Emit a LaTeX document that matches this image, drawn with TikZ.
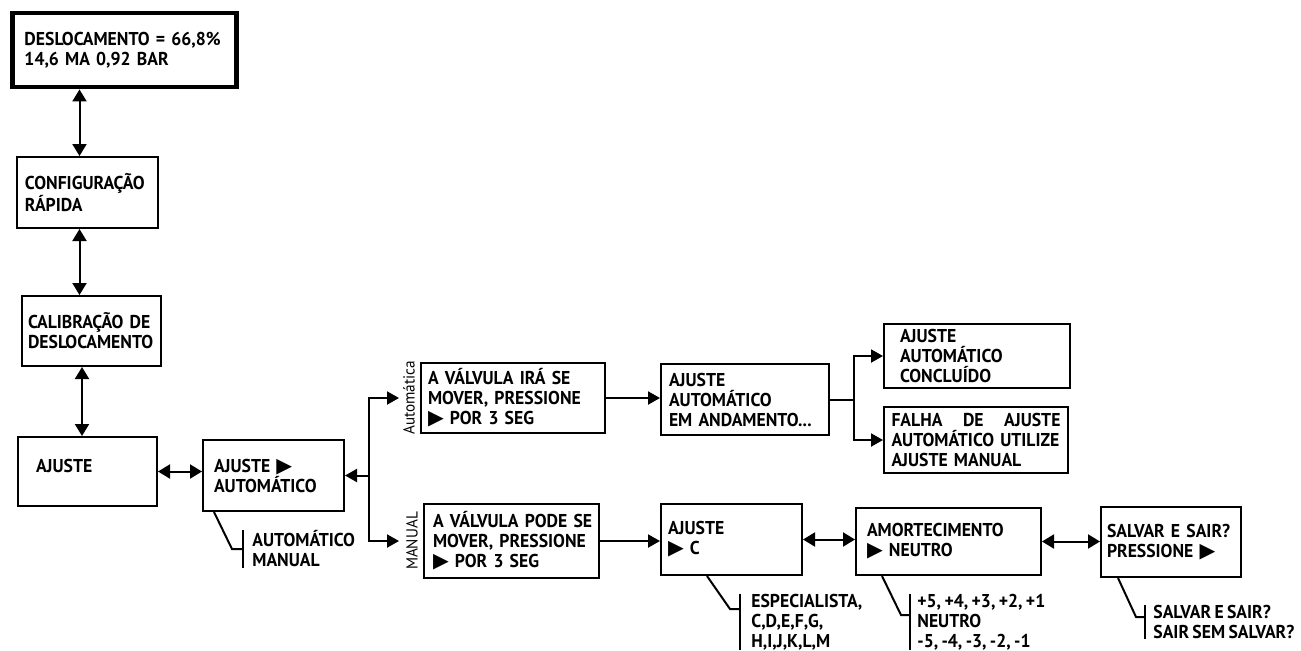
\documentclass[tikz,border=0pt]{standalone}
\usepackage{fontspec}
\setmainfont[FakeStretch=0.95, WordSpace=0.75]{PT Sans}
\newfontfamily\symfont[Scale=1.1]{DejaVu Sans}
\usetikzlibrary{arrows.meta}
\newcommand{\ptri}{{\symfont ▶}}
\hyphenpenalty=10000

\tikzset{
  tela/.style={draw, line width=1pt, align=left, inner ysep=0pt, font=\bfseries\fontsize{9.3}{10}\selectfont},
  opcao/.style={align=left, inner xsep=0pt, inner ysep=0pt, anchor=west, font=\bfseries\fontsize{9.3}{10}\selectfont},
  modo/.style={rotate=90, inner sep=0pt, font=\fontsize{8}{8}\selectfont},
  fio/.style={line width=1pt},
  seta/.style={-{Triangle[length=6pt,width=6.5pt]}, line width=1pt},
  dup/.style={{Triangle[length=6pt,width=7pt]}-{Triangle[length=6pt,width=7pt]}, line width=1pt}
}

\begin{document}
\begin{tikzpicture}[x=0.5pt, y=-0.5pt]
  \useasboundingbox (0,0) rectangle (1301,650);
  % telas
  \node[tela, line width=2.4pt, inner xsep=6pt, text width=100pt, minimum height=37pt] (disp) at (124.5,50) {DESLOCAMENTO~=~66,8\%\\14,6 MA 0,92 BAR};
  \node[tela, inner xsep=4pt, text width=62.5pt, minimum height=35.5pt] (config) at (87.5,192.5) {CONFIGURAÇÃO\\RÁPIDA};
  \node[tela, inner xsep=3pt, text width=63.5pt, minimum height=35pt] (calib) at (91.5,331) {CALIBRAÇÃO~DE\\DESLOCAMENTO};
  \node[tela, inner xsep=9pt, text width=51.5pt, minimum height=34.5pt] (ajuste) at (87.5,471.5) {AJUSTE\\[-4pt]\mbox{}};
  \node[tela, inner xsep=5.5pt, text width=59.5pt, minimum height=35.5pt] (ajauto) at (273.5,475.5) {AJUSTE \ptri\\AUTOMÁTICO};
  \node[tela, inner xsep=3.5pt, text width=85pt, minimum height=35pt] (irase) at (513,398) {A~VÁLVULA~IRÁ~SE\\MOVER,~PRESSIONE\\\ptri{} POR 3 SEG};
  \node[tela, inner xsep=4.5pt, text width=78.5pt, minimum height=37pt] (podese) at (511.5,541) {A~VÁLVULA~PODE~SE\\MOVER,~PRESSIONE\\\ptri{} POR 3 SEG};
  \node[tela, inner xsep=4pt, text width=76pt, minimum height=35.5pt] (andam) at (745,399.5) {AJUSTE\\AUTOMÁTICO\\EM~ANDAMENTO...};
  \node[tela, inner xsep=8pt, text width=77pt, minimum height=32pt] (concl) at (977,356) {AJUSTE\\AUTOMÁTICO\\CONCLUÍDO};
  \node[tela, inner xsep=3.75pt, text width=84.5pt, minimum height=33pt] (falha) at (976,440) {FALHA\hfill DE\hfill AJUSTE\\AUTOMÁTICO~UTILIZE\\AJUSTE MANUAL};
  \node[tela, inner xsep=3.5pt, text width=63.5pt, minimum height=35.5pt] (ajc) at (731.5,539.5) {AJUSTE\\\ptri{} C};
  \node[tela, inner xsep=5.5pt, text width=81.5pt, minimum height=33.5pt] (amort) at (948.5,541.5) {AMORTECIMENTO\\\ptri{} NEUTRO};
  \node[tela, inner xsep=3pt, text width=64pt, minimum height=35pt] (salvar) at (1171,542) {SALVAR~E~SAIR?\\PRESSIONE \ptri};

  % rotulos dos ramos
  \node[modo] (lauto) at ([xshift=-5.5pt]irase.west) {Automática};
  \node[modo] (lman) at ([xshift=-5.5pt]podese.west) {MANUAL};

  % opcoes
  \node[opcao] (optauto) at (252,549) {AUTOMÁTICO\\MANUAL};
  \node[opcao] (optesp) at (751,622) {ESPECIALISTA,\\C,D,E,F,G,\\H,I,J,K,L,M};
  \node[opcao] (optamo) at (917,622) {+5, +4, +3, +2, +1\\NEUTRO\\-5, -4, -3, -2, -1};
  \node[opcao] (optsal) at (1153,622) {SALVAR E SAIR?\\SAIR SEM SALVAR?};

  % menu principal
  \draw[dup] ([xshift=-4pt]config.north) -- ([xshift=-4pt]config.north |- disp.south);
  \draw[dup] ([xshift=-4pt]config.south) -- ([xshift=-4pt]config.south |- calib.north);
  \draw[dup] ([xshift=-2.75pt]ajuste.north) -- ([xshift=-2.75pt]ajuste.north |- calib.south);
  \draw[dup] (ajuste.east) -- (ajuste.east -| ajauto.west);

  % ramos automatico / manual
  \coordinate (ramo) at ([xshift=12pt]ajauto.east);
  \draw[seta] (ramo) -- (ajauto.east);
  \draw[seta] (ramo) |- ([xshift=-10.5pt]irase.west);
  \draw[seta] (ramo) |- ([xshift=-12pt]podese.west);
  \draw[seta] (irase.east) -- (irase.east -| andam.west);
  \draw[seta] (podese.east) -- (podese.east -| ajc.west);

  \coordinate (ramo2) at ([xshift=12pt]andam.east);
  \draw[fio] (andam.east) -- (ramo2);
  \draw[seta] (ramo2) |- (concl.west);
  \draw[seta] (ramo2) |- (falha.west);

  \draw[dup] (ajc.east) -- (ajc.east -| amort.west);
  \draw[dup] (amort.east) -- (amort.east -| salvar.west);

  % chaves das opcoes
  \draw[fio] ([xshift=-4.5pt]optauto.north west) -- ([xshift=-4.5pt]optauto.south west);
  \draw[fio] ([xshift=6pt]ajauto.south west) -- ([xshift=-10pt]optauto.west) -- ([xshift=-4.5pt]optauto.west);
  \draw[fio] ([xshift=-5.5pt]optesp.north west) -- ([xshift=-5.5pt]optesp.south west);
  \draw[fio] ([xshift=23.5pt]ajc.south west) -- ([xshift=-10.5pt,yshift=6.5pt]optesp.west) -- ([xshift=-5.5pt,yshift=6.5pt]optesp.west);
  \draw[fio] ([xshift=-3.5pt]optamo.north west) -- ([xshift=-3.5pt]optamo.south west);
  \draw[fio] ([xshift=13.5pt]amort.south west) -- ([xshift=-8pt,yshift=3.5pt]optamo.west) -- ([xshift=-3.5pt,yshift=3.5pt]optamo.west);
  \draw[fio] ([xshift=-4pt]optsal.north west) -- ([xshift=-4pt]optsal.south west);
  \draw[fio] ([xshift=9pt]salvar.south west) -- ([xshift=-8.5pt,yshift=2.5pt]optsal.west) -- ([xshift=-4pt,yshift=2.5pt]optsal.west);
\end{tikzpicture}
\end{document}
